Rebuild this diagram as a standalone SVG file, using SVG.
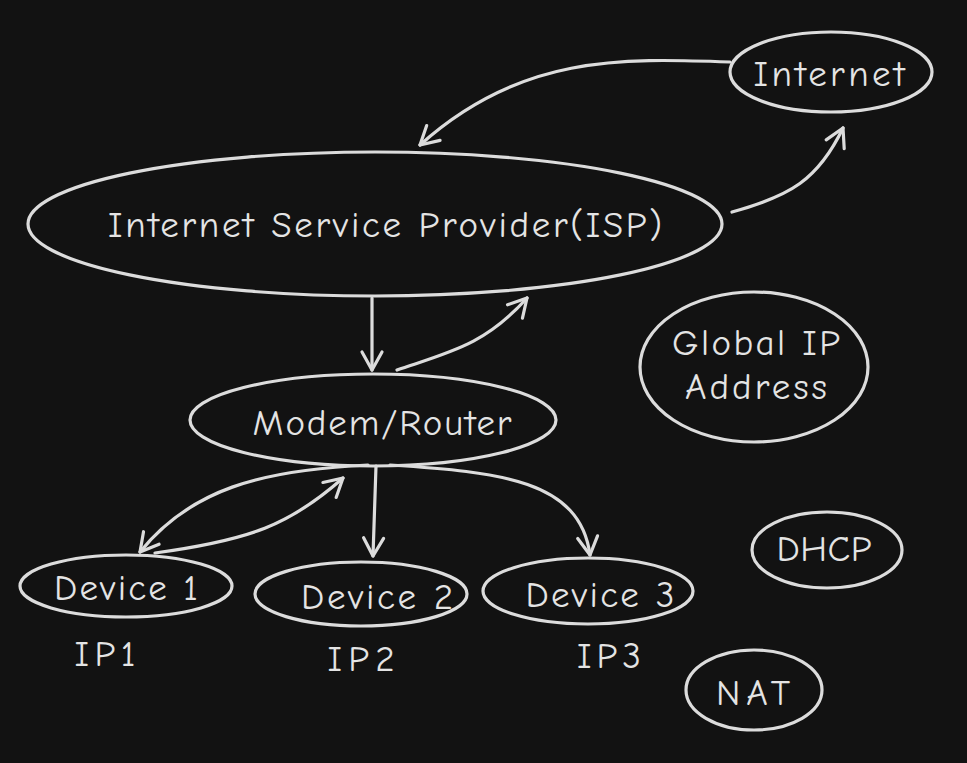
<svg xmlns="http://www.w3.org/2000/svg" width="967" height="763" viewBox="0 0 967 763">
<style>
.n{fill:none;stroke:#dcdcdc;stroke-width:3.2}
.t{fill:#e4e4e4;font-family:"Comic Neue","Noto Sans","Liberation Sans",sans-serif;font-size:37px;text-anchor:middle}
.c{fill:none;stroke:#dcdcdc;stroke-width:3.2;stroke-linecap:round;marker-end:url(#ah)}
</style>
<defs>
<marker id="ah" markerUnits="userSpaceOnUse" markerWidth="40" markerHeight="40" refX="20" refY="20" orient="auto" overflow="visible">
<path d="M2,10 L20,20 L2,30" fill="none" stroke="#dcdcdc" stroke-width="3.2" stroke-linecap="round" stroke-linejoin="round"/>
</marker>
</defs>
<rect width="967" height="763" fill="#121212"/>
<g id="connectors">
<path class="c" d="M730,62 C620,58 520,55 420,145"/>
<path class="c" d="M732,212 C790,196 818,180 843,128"/>
<path class="c" d="M372,298 L372,370"/>
<path class="c" d="M397,370 C450,352 485,345 527,298"/>
<path class="c" d="M368,465 C260,470 190,490 140,552"/>
<path class="c" d="M155,553 C250,540 290,525 343,478"/>
<path class="c" d="M376,466 L373,556"/>
<path class="c" d="M390,465 C500,472 580,480 590,555"/>
</g>
<g id="internet"><ellipse class="n" cx="831" cy="72" rx="101" ry="40"/><text class="t" x="829" y="86" textLength="151">Internet</text></g>
<g id="isp"><ellipse class="n" cx="375" cy="224" rx="347" ry="72"/><text class="t" x="385" y="237" textLength="554">Internet Service Provider(ISP)</text></g>
<g id="modem"><ellipse class="n" cx="373" cy="420" rx="183" ry="46"/><text class="t" x="382" y="435" textLength="259">Modem/Router</text></g>
<g id="global-ip"><ellipse class="n" cx="754" cy="367" rx="114" ry="75"/><text class="t" x="756" y="355" textLength="168">Global IP</text><text class="t" x="756" y="399" textLength="142">Address</text></g>
<g id="dhcp"><ellipse class="n" cx="827" cy="550" rx="75" ry="38"/><text class="t" x="824" y="561" textLength="95">DHCP</text></g>
<g id="nat"><ellipse class="n" cx="754" cy="690" rx="68" ry="40"/><text class="t" x="753" y="705" textLength="74">NAT</text></g>
<g id="device1"><ellipse class="n" cx="126" cy="586" rx="106" ry="31"/><text class="t" x="126" y="600" textLength="144">Device 1</text></g>
<g id="device2"><ellipse class="n" cx="361" cy="594" rx="106" ry="32"/><text class="t" x="377" y="609" textLength="152">Device 2</text></g>
<g id="device3"><ellipse class="n" cx="588" cy="591" rx="105" ry="33"/><text class="t" x="600" y="607" textLength="149">Device 3</text></g>
<g id="ip-labels">
<text class="t" x="105" y="666" textLength="61">IP1</text>
<text class="t" x="361" y="671" textLength="67">IP2</text>
<text class="t" x="609" y="668" textLength="64">IP3</text>
</g>
</svg>
